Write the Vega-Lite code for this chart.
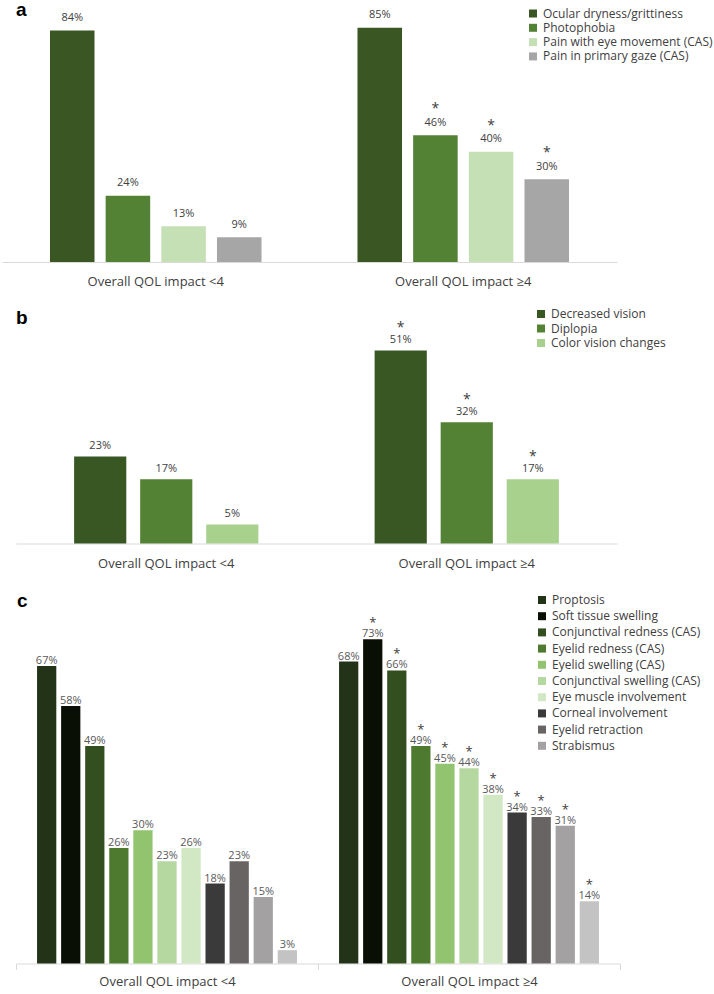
{
  "$schema": "https://vega.github.io/schema/vega-lite/v6.json",
  "padding": {"left": 15, "top": 0, "right": 0, "bottom": 0},
  "background": "white",
  "spacing": 18.5,
  "resolve": {"scale": {"x": "independent", "xOffset": "independent", "y": "independent", "color": "independent"}, "legend": {"color": "independent"}, "axis": {"x": "independent", "y": "independent"}},
  "config": {
    "view": {"stroke": null},
    "font": "Open Sans",
    "legend": {"orient": "none", "title": null, "symbolType": "square", "symbolSize": 64, "symbolStrokeWidth": 0, "labelFontSize": 12, "labelColor": "#404040", "labelFont": "Open Sans", "labelOffset": 4, "labelLimit": 300, "padding": 0},
    "axisX": {"labelAngle": 0, "labelFontSize": 13, "labelColor": "#404040", "labelFont": "Open Sans", "domainColor": "#d9d9d9", "domainWidth": 1, "title": null, "grid": false},
    "title": {"anchor": "start", "frame": "group", "baseline": "alphabetic", "fontSize": 19, "font": "Liberation Sans", "fontWeight": "bold", "color": "#000000"}
  },
  "datasets": {
    "a": [
      {"group": "Overall QOL impact <4", "symptom": "Ocular dryness/grittiness", "value": 0.84, "sig": false},
      {"group": "Overall QOL impact <4", "symptom": "Photophobia", "value": 0.24, "sig": false},
      {"group": "Overall QOL impact <4", "symptom": "Pain with eye movement (CAS)", "value": 0.13, "sig": false},
      {"group": "Overall QOL impact <4", "symptom": "Pain in primary gaze (CAS)", "value": 0.09, "sig": false},
      {"group": "Overall QOL impact ≥4", "symptom": "Ocular dryness/grittiness", "value": 0.85, "sig": false},
      {"group": "Overall QOL impact ≥4", "symptom": "Photophobia", "value": 0.46, "sig": true},
      {"group": "Overall QOL impact ≥4", "symptom": "Pain with eye movement (CAS)", "value": 0.40, "sig": true},
      {"group": "Overall QOL impact ≥4", "symptom": "Pain in primary gaze (CAS)", "value": 0.30, "sig": true}
    ],
    "b": [
      {"group": "Overall QOL impact <4", "symptom": "Decreased vision", "value": 0.23, "sig": false},
      {"group": "Overall QOL impact <4", "symptom": "Diplopia", "value": 0.17, "sig": false},
      {"group": "Overall QOL impact <4", "symptom": "Color vision changes", "value": 0.05, "sig": false},
      {"group": "Overall QOL impact ≥4", "symptom": "Decreased vision", "value": 0.51, "sig": true},
      {"group": "Overall QOL impact ≥4", "symptom": "Diplopia", "value": 0.32, "sig": true},
      {"group": "Overall QOL impact ≥4", "symptom": "Color vision changes", "value": 0.17, "sig": true}
    ],
    "c": [
      {"group": "Overall QOL impact <4", "sign": "Proptosis", "value": 0.67, "sig": false},
      {"group": "Overall QOL impact <4", "sign": "Soft tissue swelling", "value": 0.58, "sig": false},
      {"group": "Overall QOL impact <4", "sign": "Conjunctival redness (CAS)", "value": 0.49, "sig": false},
      {"group": "Overall QOL impact <4", "sign": "Eyelid redness (CAS)", "value": 0.26, "sig": false},
      {"group": "Overall QOL impact <4", "sign": "Eyelid swelling (CAS)", "value": 0.30, "sig": false},
      {"group": "Overall QOL impact <4", "sign": "Conjunctival swelling (CAS)", "value": 0.23, "sig": false},
      {"group": "Overall QOL impact <4", "sign": "Eye muscle involvement", "value": 0.26, "sig": false},
      {"group": "Overall QOL impact <4", "sign": "Corneal involvement", "value": 0.18, "sig": false},
      {"group": "Overall QOL impact <4", "sign": "Eyelid retraction", "value": 0.23, "sig": false},
      {"group": "Overall QOL impact <4", "sign": "Strabismus", "value": 0.15, "sig": false},
      {"group": "Overall QOL impact <4", "sign": "Other", "value": 0.03, "sig": false},
      {"group": "Overall QOL impact ≥4", "sign": "Proptosis", "value": 0.68, "sig": false},
      {"group": "Overall QOL impact ≥4", "sign": "Soft tissue swelling", "value": 0.73, "sig": true},
      {"group": "Overall QOL impact ≥4", "sign": "Conjunctival redness (CAS)", "value": 0.66, "sig": true},
      {"group": "Overall QOL impact ≥4", "sign": "Eyelid redness (CAS)", "value": 0.49, "sig": true},
      {"group": "Overall QOL impact ≥4", "sign": "Eyelid swelling (CAS)", "value": 0.45, "sig": true},
      {"group": "Overall QOL impact ≥4", "sign": "Conjunctival swelling (CAS)", "value": 0.44, "sig": true},
      {"group": "Overall QOL impact ≥4", "sign": "Eye muscle involvement", "value": 0.38, "sig": true},
      {"group": "Overall QOL impact ≥4", "sign": "Corneal involvement", "value": 0.34, "sig": true},
      {"group": "Overall QOL impact ≥4", "sign": "Eyelid retraction", "value": 0.33, "sig": true},
      {"group": "Overall QOL impact ≥4", "sign": "Strabismus", "value": 0.31, "sig": true},
      {"group": "Overall QOL impact ≥4", "sign": "Other", "value": 0.14, "sig": true}
    ]
  },
  "vconcat": [
    {
      "width": 601,
      "height": 237,
      "title": {"text": "a", "dx": 0, "offset": -12},
      "data": {"name": "a"},
      "encoding": {
        "x": {"field": "group", "type": "nominal", "sort": null, "scale": {"paddingInner": 0, "paddingOuter": 0, "range": [-14, 601]}, "axis": {"ticks": false, "tickSize": 0, "labelPadding": 13.5}},
        "xOffset": {"field": "symptom", "type": "nominal", "sort": null, "scale": {"paddingInner": 0.2, "paddingOuter": 0.862}},
        "y": {"field": "value", "type": "quantitative", "scale": {"domain": [0, 0.86]}, "axis": null}
      },
      "layer": [
        {
          "mark": {"type": "bar"},
          "encoding": {
            "color": {"field": "symptom", "type": "nominal", "sort": null,
              "scale": {"domain": ["Ocular dryness/grittiness", "Photophobia", "Pain with eye movement (CAS)", "Pain in primary gaze (CAS)"], "range": ["#3a5723", "#548235", "#c5e0b4", "#a6a6a6"]},
              "legend": {"legendX": 511, "legendY": -17.5, "rowPadding": 2.3}}
          }
        },
        {
          "mark": {"type": "text", "dy": -9.5, "baseline": "alphabetic", "fontSize": 11, "color": "#404040"},
          "encoding": {"text": {"field": "value", "type": "quantitative", "format": ".0%"}}
        },
        {
          "transform": [{"filter": "datum.sig"}],
          "mark": {"type": "text", "dy": -22, "baseline": "alphabetic", "fontSize": 14, "color": "#404040"},
          "encoding": {"text": {"value": "*"}}
        }
      ]
    },
    {
      "spacing": 21,
      "resolve": {"scale": {"x": "independent", "xOffset": "independent", "y": "independent", "color": "independent"}, "legend": {"color": "independent"}, "axis": {"x": "independent", "y": "independent"}},
      "vconcat": [
        {
          "width": 601,
          "height": 212,
          "title": {"text": "b", "dx": 0, "offset": -20},
          "data": {"name": "b"},
          "encoding": {
            "x": {"field": "group", "type": "nominal", "sort": null, "scale": {"paddingInner": 0, "paddingOuter": 0}, "axis": {"ticks": false, "tickSize": 0, "labelPadding": 13.5}},
            "xOffset": {"field": "symptom", "type": "nominal", "sort": null, "scale": {"paddingInner": 0.21, "paddingOuter": 0.88}},
            "y": {"field": "value", "type": "quantitative", "scale": {"domain": [0, 0.56]}, "axis": null}
          },
          "layer": [
            {
              "mark": {"type": "bar"},
              "encoding": {
                "color": {"field": "symptom", "type": "nominal", "sort": null,
                  "scale": {"domain": ["Decreased vision", "Diplopia", "Color vision changes"], "range": ["#385723", "#548235", "#a9d18e"]},
                  "legend": {"legendX": 519, "legendY": -23.5, "rowPadding": 2.5}}
              }
            },
            {
              "mark": {"type": "text", "dy": -7.5, "baseline": "alphabetic", "fontSize": 11, "color": "#404040"},
              "encoding": {"text": {"field": "value", "type": "quantitative", "format": ".0%"}}
            },
            {
              "transform": [{"filter": "datum.sig"}],
              "mark": {"type": "text", "dy": -18, "baseline": "alphabetic", "fontSize": 14, "color": "#404040"},
              "encoding": {"text": {"value": "*"}}
            }
          ]
        },
        {
          "width": 604,
          "height": 353,
          "title": {"text": "c", "dx": 1, "offset": -17},
          "data": {"name": "c"},
          "encoding": {
            "x": {"field": "group", "type": "nominal", "sort": null, "scale": {"paddingInner": 0, "paddingOuter": 0}, "axis": {"ticks": true, "tickBand": "extent", "tickSize": 6, "tickColor": "#d9d9d9", "labelPadding": 6}},
            "xOffset": {"field": "sign", "type": "nominal", "sort": null, "scale": {"paddingInner": 0.2, "paddingOuter": 0.875}},
            "y": {"field": "value", "type": "quantitative", "scale": {"domain": [0, 0.795]}, "axis": null}
          },
          "layer": [
            {
              "mark": {"type": "bar"},
              "encoding": {
                "color": {"field": "sign", "type": "nominal", "sort": null,
                  "scale": {"domain": ["Proptosis", "Soft tissue swelling", "Conjunctival redness (CAS)", "Eyelid redness (CAS)", "Eyelid swelling (CAS)", "Conjunctival swelling (CAS)", "Eye muscle involvement", "Corneal involvement", "Eyelid retraction", "Strabismus", "Other"],
                    "range": ["#223318", "#0a0f06", "#344f1f", "#4e7a2f", "#92c46f", "#b5d8a0", "#d2e7c3", "#3a3a3a", "#686464", "#a3a1a1", "#c3c3c3"]},
                  "legend": {"legendX": 520, "legendY": -16.5, "rowPadding": 4.2,
                    "values": ["Proptosis", "Soft tissue swelling", "Conjunctival redness (CAS)", "Eyelid redness (CAS)", "Eyelid swelling (CAS)", "Conjunctival swelling (CAS)", "Eye muscle involvement", "Corneal involvement", "Eyelid retraction", "Strabismus"]}}
              }
            },
            {
              "mark": {"type": "text", "dy": -2, "baseline": "alphabetic", "fontSize": 11, "color": "#595959"},
              "encoding": {"text": {"field": "value", "type": "quantitative", "format": ".0%"}}
            },
            {
              "transform": [{"filter": "datum.sig"}],
              "mark": {"type": "text", "dy": -12, "baseline": "alphabetic", "fontSize": 13, "color": "#404040"},
              "encoding": {"text": {"value": "*"}}
            }
          ]
        }
      ]
    }
  ]
}
